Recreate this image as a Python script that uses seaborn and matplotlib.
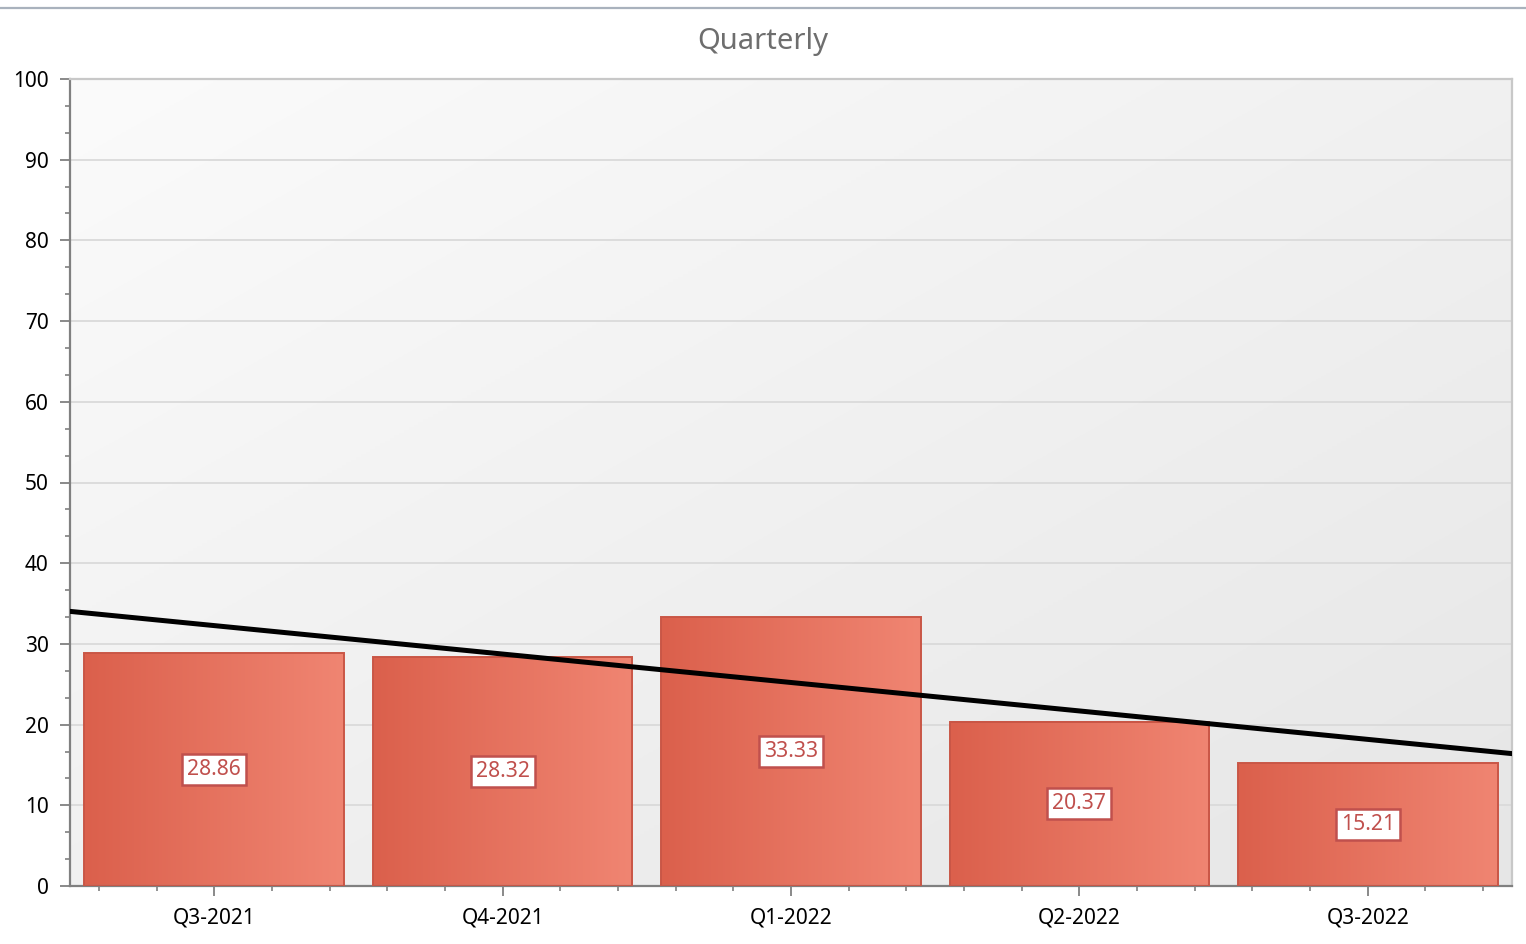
import numpy as np
import pandas as pd
import matplotlib
matplotlib.use("Agg")
import matplotlib.pyplot as plt
from matplotlib.colors import LinearSegmentedColormap
from matplotlib.lines import Line2D
from matplotlib.ticker import MultipleLocator
import seaborn as sns

# Quarterly values
quarters = ["Q3-2021", "Q4-2021", "Q1-2022", "Q2-2022", "Q3-2022"]
values = [28.86, 28.32, 33.33, 20.37, 15.21]
title = "Quarterly"

sns.set_theme(style="white")
plt.rcParams["font.family"] = ["Noto Sans", "DejaVu Sans"]

df = pd.DataFrame({"quarter": quarters, "value": values})

fig = plt.figure(figsize=(15.26, 9.44), dpi=100)
ax = fig.add_axes([70 / 1526, 58 / 944, 1442 / 1526, 807 / 944])

# thin rule across the top of the figure
fig.add_artist(Line2D([0, 1], [1 - 8 / 944, 1 - 8 / 944], transform=fig.transFigure,
                      color="#a9b2bd", lw=1.6))

# diagonal plot-area background gradient
gx, gy = np.meshgrid(np.linspace(0, 1, 300), np.linspace(0, 1, 300))
diag = (gx + gy) / 2.0
bg_cmap = LinearSegmentedColormap.from_list("bg", ["#fbfbfb", "#e6e6e6"])
ax.imshow(diag, cmap=bg_cmap, extent=[0, 1, 0, 1], transform=ax.transAxes,
          aspect="auto", zorder=0, interpolation="bilinear")

sns.barplot(data=df, x="quarter", y="value", width=0.9, ax=ax, zorder=2,
            color="#e5705c", saturation=1)

bar_cmap = LinearSegmentedColormap.from_list("bar", ["#db604c", "#f08572"])
hgrad = np.linspace(0, 1, 256).reshape(1, -1)
for patch in ax.patches:
    x0, y0 = patch.get_x(), patch.get_y()
    w, h = patch.get_width(), patch.get_height()
    ax.imshow(hgrad, cmap=bar_cmap, extent=[x0, x0 + w, y0, y0 + h],
              aspect="auto", zorder=2, interpolation="bilinear")
    patch.set_facecolor("none")
    patch.set_edgecolor("#c95646")
    patch.set_linewidth(1.4)
    patch.set_zorder(3)

ax.set_xlim(-0.5, 4.5)
ax.set_ylim(0, 100)

# linear trend across the quarters
sns.regplot(x=np.arange(len(values)), y=np.array(values), ax=ax, ci=None,
            scatter=False, truncate=False,
            line_kws=dict(color="black", lw=3.6, zorder=4))
ax.set_xlim(-0.5, 4.5)
ax.set_ylim(0, 100)

# value labels in the middle of each bar
for i, v in enumerate(values):
    ax.text(i, v / 2, f"{v:.2f}", ha="center", va="center", fontsize=15.2,
            color="#c0504d", zorder=5,
            bbox=dict(boxstyle="square,pad=0.24", fc="white", ec="#c0504d", lw=1.8))

fig.text(0.5, 1 - 42 / 944, title, ha="center", va="center", fontsize=21,
         color="#6e6e6e")
ax.set_xlabel("")
ax.set_ylabel("")

ax.yaxis.set_major_locator(MultipleLocator(10))
ax.yaxis.set_minor_locator(MultipleLocator(10 / 3))
ax.xaxis.set_minor_locator(MultipleLocator(0.2))
ax.set_xticks(range(len(quarters)))
ax.set_xticklabels(quarters)

ax.grid(axis="y", which="major", color="#dadada", lw=1.3)
ax.set_axisbelow(True)

ax.tick_params(axis="both", which="major", length=7.5, width=1.3, color="#808080",
               labelsize=15, labelcolor="black", direction="out")
ax.tick_params(axis="both", which="minor", length=3.8, width=1.2, color="#808080",
               direction="out")
ax.tick_params(axis="y", which="major", pad=8)
ax.tick_params(axis="x", which="major", pad=8)
ax.tick_params(axis="both", which="both", bottom=True, left=True)

for side in ["left", "bottom"]:
    ax.spines[side].set_color("#808080")
    ax.spines[side].set_linewidth(1.6)
for side in ["top", "right"]:
    ax.spines[side].set_color("#c8c8c8")
    ax.spines[side].set_linewidth(1.6)
    ax.spines[side].set_visible(True)

fig.savefig("out.png", dpi=100, facecolor="white")
